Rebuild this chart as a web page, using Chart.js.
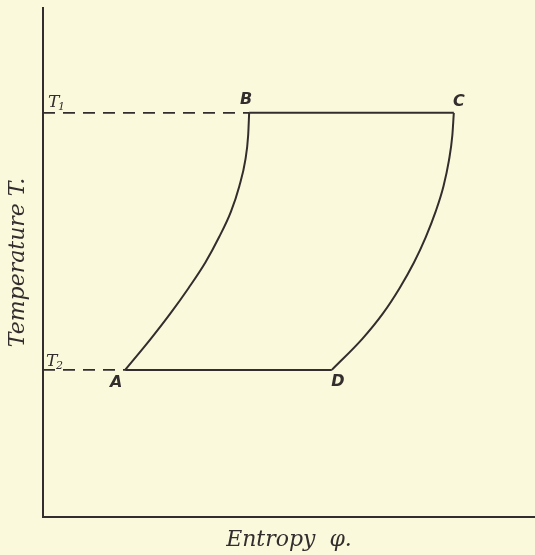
<!DOCTYPE html>
<html>
<head>
<meta charset="utf-8">
<script src="https://cdn.jsdelivr.net/npm/chart.js@4"></script>
<style>
  html, body { margin: 0; padding: 0; background: #fbf9dc; }
  #wrap { width: 535px; height: 555px; }
</style>
</head>
<body>
<div id="wrap"><canvas id="myChart"></canvas></div>
<script>
// temperatures of the two isotherms
const T1 = 7.94;
const T2 = 2.89;

// adiabatic curve A -> B (entropy, temperature)
const abEntropy = [1.67, 2.19, 2.59, 2.96, 3.30, 3.58, 3.82, 3.99, 4.11, 4.17, 4.19];
const abTemp    = [2.89, 3.5, 4.0, 4.5, 5.0, 5.5, 6.0, 6.5, 7.0, 7.5, 7.94];

// adiabatic curve D -> C
const dcEntropy = [5.87, 6.49, 6.91, 7.25, 7.54, 7.78, 7.98, 8.14, 8.25, 8.32, 8.35];
const dcTemp    = [2.89, 3.5, 4.0, 4.5, 5.0, 5.5, 6.0, 6.5, 7.0, 7.5, 7.94];

// corner labels
const cornerNames = ['A', 'B', 'C', 'D'];

const pts = (xs, ys) => xs.map((x, i) => ({ x: x, y: ys[i] }));

const A = { x: abEntropy[0], y: T2 };
const B = { x: abEntropy[abEntropy.length - 1], y: T1 };
const C = { x: dcEntropy[dcEntropy.length - 1], y: T1 };
const D = { x: dcEntropy[0], y: T2 };
const corners = [A, B, C, D];

const ink = '#332d2d';
const lineStyle = { borderColor: ink, borderWidth: 2, pointRadius: 0, showLine: true, fill: false };

const data = {
  datasets: [
    { ...lineStyle, label: 'AB', data: pts(abEntropy, abTemp), cubicInterpolationMode: 'monotone' },
    { ...lineStyle, label: 'DC', data: pts(dcEntropy, dcTemp), cubicInterpolationMode: 'monotone' },
    { ...lineStyle, label: 'BC', data: [B, C] },
    { ...lineStyle, label: 'AD', data: [A, D] },
    { ...lineStyle, label: 'T1', data: [{ x: 0, y: T1 }, B], borderWidth: 1.8, borderDash: [12, 8] },
    { ...lineStyle, label: 'T2', data: [{ x: 0, y: T2 }, A], borderWidth: 1.8, borderDash: [12, 8] }
  ]
};

// letters at corners and the T1 / T2 marks on the axis
const labelPlugin = {
  id: 'labels',
  afterDatasetsDraw(chart) {
    const { ctx, scales: { x, y } } = chart;
    const offsets = [[-9, 13], [-3, -13], [5, -11], [6, 12]];
    ctx.save();
    ctx.fillStyle = ink;
    ctx.font = 'italic bold 16px "DejaVu Sans"';
    ctx.textAlign = 'center';
    ctx.textBaseline = 'middle';
    corners.forEach((p, i) => {
      ctx.fillText(cornerNames[i], x.getPixelForValue(p.x) + offsets[i][0], y.getPixelForValue(p.y) + offsets[i][1]);
    });
    // T with subscript
    ctx.textAlign = 'left';
    ctx.textBaseline = 'alphabetic';
    const tMark = (sub, px, py) => {
      ctx.font = 'italic 17px "DejaVu Serif"';
      ctx.fillText('T', px, py);
      ctx.font = 'italic 11px "DejaVu Serif"';
      ctx.fillText(sub, px + 10, py + 3);
    };
    tMark('1', x.left + 5, y.getPixelForValue(T1) - 6);
    tMark('2', x.left + 3, y.getPixelForValue(T2) - 4);
    ctx.restore();
  }
};

const config = {
  type: 'scatter',
  data,
  options: {
    responsive: true,
    maintainAspectRatio: false,
    animation: false,
    layout: { padding: { top: 8, right: 0, left: 0, bottom: 0 } },
    plugins: { legend: { display: false }, tooltip: { enabled: false } },
    scales: {
      x: {
        min: 0, max: 10,
        grid: { display: false },
        ticks: { display: false },
        border: { color: ink, width: 2 },
        title: {
          display: true, text: 'Entropy  \u03c6.', color: ink,
          font: { family: 'DejaVu Serif', style: 'italic', size: 22 },
          padding: { top: 0, bottom: 2 }
        },
        afterFit(scale) { scale.height = 38; }
      },
      y: {
        min: 0, max: 10,
        grid: { display: false },
        ticks: { display: false },
        border: { color: ink, width: 2 },
        title: {
          display: true, text: 'Temperature T.', color: ink,
          font: { family: 'DejaVu Serif', style: 'italic', size: 22 },
          padding: { top: 5, bottom: 0 }
        },
        afterFit(scale) { scale.width = 43; }
      }
    }
  },
  plugins: [labelPlugin]
};

const myChart = new Chart(document.getElementById('myChart'), config);
</script>
</body>
</html>
